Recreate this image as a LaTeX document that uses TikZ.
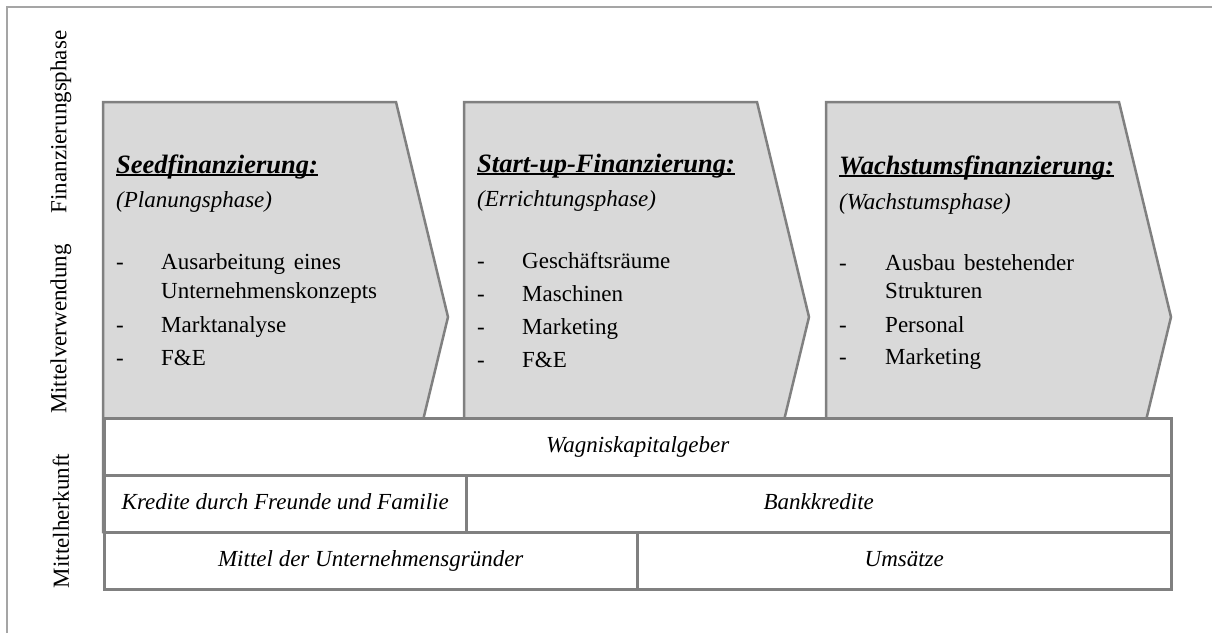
\documentclass[tikz,border=0pt]{standalone}
\usepackage{fontspec}
\setmainfont{Liberation Serif}
\definecolor{chevfill}{RGB}{217,217,217}
\definecolor{chevline}{RGB}{128,128,128}
\definecolor{framecol}{RGB}{165,165,165}
% underlined heading with a rule just below the baseline
\newcommand\ulhead[1]{\setbox0=\hbox{#1}\rlap{\rule[-2.6pt]{\wd0}{1.8pt}}\box0}
\begin{document}
\begin{tikzpicture}[x=1pt,y=-1pt,
  chev/.style={draw=chevline, fill=chevfill, line width=2.5pt, line join=miter},
  cell/.style={draw=chevline, fill=white, line width=2.5pt, inner sep=0pt,
    text height=16pt, text depth=5pt,
    minimum height=57pt, anchor=north west, font=\fontsize{23}{27}\selectfont\itshape},
  side/.style={rotate=90, inner sep=0pt, font=\fontsize{23}{27}\selectfont},
  head/.style={anchor=base west, inner sep=0pt, font=\fontsize{26.5}{30}\selectfont\bfseries\itshape},
  sub/.style={anchor=base west, inner sep=0pt, font=\fontsize{23}{27}\selectfont\itshape},
  item/.style={anchor=base west, inner sep=0pt, font=\fontsize{23}{27}\selectfont}
]
\useasboundingbox (0,0) rectangle (1212,633);

% outer frame (top and left edges)
\draw[framecol, line width=1.4pt] (7,633) -- (7,7) -- (1212,7);

% side labels
\node[side] (lphase) at (61,122) {Finanzierungsphase};
\node[side] (luse)   at (61,329) {Mittelverwendung};
\node[side] (lsrc)   at (61,521) {Mittelherkunft};

% phase chevrons
\draw[chev] (103,102) -- (396,102) -- (448,317) -- (396,532) -- (103,532) -- cycle;
\draw[chev] (464,102) -- (757,102) -- (809,317) -- (757,532) -- (464,532) -- cycle;
\draw[chev] (826,102) -- (1119,102) -- (1171,317) -- (1119,532) -- (826,532) -- cycle;

% sources of funds
\node[cell, minimum width=1067pt] (wk) at (103,417) {Wagniskapitalgeber};
\node[cell, minimum width=362pt]  (kf) at (103,474) {Kredite durch Freunde und Familie};
\node[cell, minimum width=705pt]  (bk) at (465,474) {Bankkredite};
\node[cell, minimum width=533pt]  (mu) at (103,531) {Mittel der Unternehmensgründer};
\node[cell, minimum width=534pt]  (um) at (636,531) {Umsätze};

% seed phase
\node[head] (h1) at (116,173) {\ulhead{Seedfinanzierung:}};
\node[sub]  (s1) at (116,207) {(Planungsphase)};
\node[item] (d1a) at (116,269) {-};
\node[item] (t1a) at (161,269) {Ausarbeitung\hspace{0.38em}eines};
\node[item] (t1b) at (161,298) {Unternehmenskonzepts};
\node[item] (d1c) at (116,332) {-};
\node[item] (t1c) at (161,332) {Marktanalyse};
\node[item] (d1d) at (116,365) {-};
\node[item] (t1d) at (161,365) {F\&E};

% start-up phase
\node[head] (h2) at (477,172) {\ulhead{Start-up-Finanzierung:}};
\node[sub]  (s2) at (477,206) {(Errichtungsphase)};
\node[item] (d2a) at (477,268) {-};
\node[item] (t2a) at (522,268) {Geschäftsräume};
\node[item] (d2b) at (477,301) {-};
\node[item] (t2b) at (522,301) {Maschinen};
\node[item] (d2c) at (477,334) {-};
\node[item] (t2c) at (522,334) {Marketing};
\node[item] (d2d) at (477,367) {-};
\node[item] (t2d) at (522,367) {F\&E};

% growth phase
\node[head] (h3) at (839,174) {\ulhead{Wachstumsfinanzierung:}};
\node[sub]  (s3) at (839,209) {(Wachstumsphase)};
\node[item] (d3a) at (839,270) {-};
\node[item] (t3a) at (885,270) {Ausbau\hspace{0.38em}bestehender};
\node[item] (t3b) at (885,298) {Strukturen};
\node[item] (d3c) at (839,332) {-};
\node[item] (t3c) at (885,332) {Personal};
\node[item] (d3d) at (839,364) {-};
\node[item] (t3d) at (885,364) {Marketing};
\end{tikzpicture}
\end{document}
